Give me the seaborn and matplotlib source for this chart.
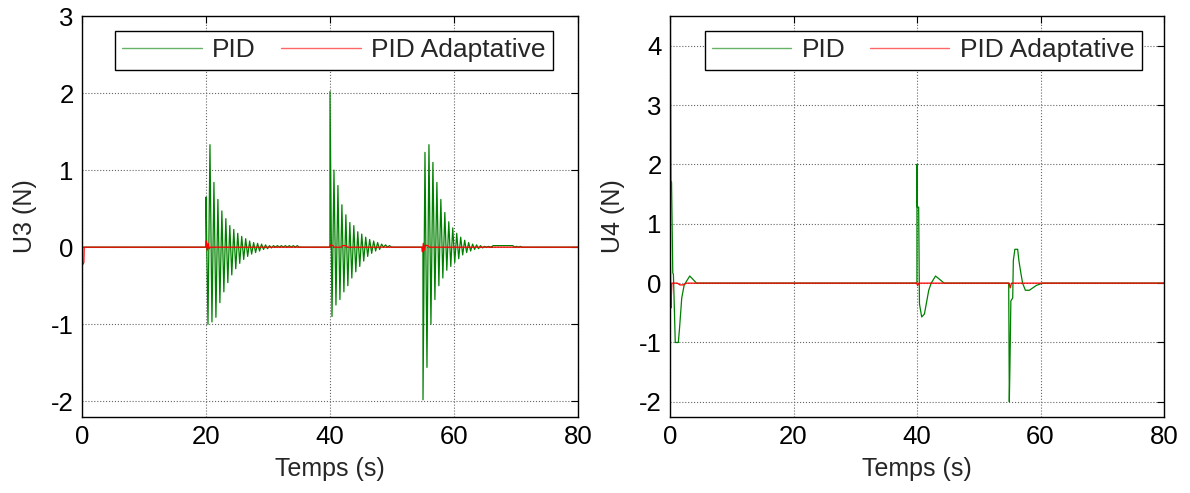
import numpy as np
import pandas as pd
import seaborn as sns
import matplotlib.pyplot as plt

# ---------------------------------------------------------------- data
HALF_PERIOD = 0.32          # spacing (s) between successive extrema of the oscillations
T_END = 80.0

# U3 (PID): successive extrema of the three disturbance responses
u3_burst_starts = [20.0, 40.0, 55.0]
u3_burst_a = [0.65, -1.0, 1.33, -0.97, 0.84, -0.91, 0.62, -0.72, 0.47, -0.58,
              0.37, -0.46, 0.28, -0.36, 0.23, -0.28, 0.18, -0.21, 0.14, -0.16,
              0.11, -0.12, 0.08, -0.09, 0.06, -0.07, 0.05, -0.05, 0.04, -0.03,
              0.03, -0.02, 0.02, -0.01, 0.02, 0.0, 0.02, 0.0, 0.02, 0.0,
              0.02, 0.0, 0.02, 0.0, 0.02, 0.0, 0.02, 0.0]
u3_burst_b = [2.02, -0.9, 1.0, -0.75, 0.8, -0.68, 0.55, -0.58, 0.42, -0.5,
              0.32, -0.4, 0.28, -0.32, 0.2, -0.25, 0.17, -0.18, 0.13, -0.12,
              0.1, -0.08, 0.08, -0.05, 0.06, -0.03, 0.04, 0.0, 0.03, 0.0, 0.02]
u3_burst_c = [-1.98, 1.23, -1.56, 1.33, -1.0, 1.1, -0.68, 0.84, -0.5, 0.62,
              -0.4, 0.45, -0.3, 0.33, -0.25, 0.25, -0.2, 0.18, -0.15, 0.13,
              -0.1, 0.09, -0.07, 0.06, -0.05, 0.04, -0.03, 0.03, -0.02, 0.02,
              -0.01, 0.01, 0.0, 0.01, 0.0]
u3_pid_tail_t = [66.0, 66.3, 69.5, 69.8, 70.1, 70.4, 70.7, 71.0]
u3_pid_tail_v = [0.0, 0.02, 0.02, 0.0, 0.01, 0.0, 0.01, 0.0]

# U3 (adaptive PID)
u3_adp_t = [0.0, 0.02, 0.3, 0.35, 19.95, 20.05, 20.2, 20.35, 20.5, 20.7,
            39.95, 40.05, 40.5, 40.6, 41.8, 42.0, 42.6, 42.8,
            54.8, 54.9, 55.05, 55.2, 55.4, 55.6, 55.8, 56.0]
u3_adp_v = [0.0, -0.24, -0.2, 0.0, 0.0, 0.08, -0.04, 0.05, -0.02, 0.0,
            0.0, 0.03, 0.02, 0.0, 0.0, 0.02, 0.02, 0.0,
            0.0, -0.06, 0.05, -0.04, 0.03, 0.02, 0.02, 0.0]

# U4 (PID)
u4_pid_t = [0.0, 0.05, 0.15, 0.25, 0.45, 0.55, 0.75, 0.85, 1.35, 1.55, 1.9,
            2.3, 3.2, 4.3,
            39.99, 40.0, 40.05, 40.27, 40.4, 40.76, 41.2, 41.5, 41.9, 42.3,
            43.0, 44.4,
            54.85, 54.95, 55.05, 55.2, 55.5, 55.6, 55.85, 56.3, 56.5, 56.85,
            57.1, 57.55, 58.2, 59.3, 60.3]
u4_pid_v = [0.0, 5.0, 1.73, 1.7, 0.17, 0.15, -0.6, -1.0, -1.0, -0.75, -0.25,
            -0.03, 0.12, 0.0,
            0.0, 2.0, 1.28, 1.28, -0.35, -0.57, -0.52, -0.35, -0.12, 0.0,
            0.12, 0.0,
            0.0, -2.0, -1.4, -0.3, -0.25, 0.38, 0.57, 0.57, 0.38, 0.15,
            0.0, -0.12, -0.12, -0.04, 0.0]

# U4 (adaptive PID)
u4_adp_t = [0.0, 0.05, 0.15, 0.3, 1.2, 1.6, 2.2, 2.6,
            39.95, 40.1, 40.3, 54.9, 55.1, 55.3]
u4_adp_v = [0.55, 0.55, -0.42, 0.0, 0.0, -0.03, -0.03, 0.0,
            0.0, -0.04, 0.0, 0.0, -0.08, 0.0]

labels = ["PID", "PID Adaptative"]
colors = {"PID": "#008000", "PID Adaptative": "#ff0000"}


def burst(start, values):
    t = start + HALF_PERIOD * np.arange(len(values))
    return list(t), list(values)


# assemble U3 PID trace: flat zero between the three responses
u3_pid_t, u3_pid_v = [0.0], [0.0]
for start, vals in zip(u3_burst_starts, [u3_burst_a, u3_burst_b, u3_burst_c]):
    bt, bv = burst(start, vals)
    u3_pid_t += [start - 0.01] + bt
    u3_pid_v += [0.0] + bv
    u3_pid_t += [bt[-1] + HALF_PERIOD]
    u3_pid_v += [0.0]
u3_pid_t += u3_pid_tail_t + [T_END]
u3_pid_v += u3_pid_tail_v + [0.0]

u3_adp_t = u3_adp_t + [T_END]
u3_adp_v = u3_adp_v + [0.0]
u4_pid_t = u4_pid_t + [T_END]
u4_pid_v = u4_pid_v + [0.0]
u4_adp_t = u4_adp_t + [T_END]
u4_adp_v = u4_adp_v + [0.0]


def frame(t_pid, v_pid, t_adp, v_adp):
    return pd.concat([
        pd.DataFrame({"t": t_pid, "u": v_pid, "ctrl": labels[0]}),
        pd.DataFrame({"t": t_adp, "u": v_adp, "ctrl": labels[1]}),
    ], ignore_index=True)


df_u3 = frame(u3_pid_t, u3_pid_v, u3_adp_t, u3_adp_v)
df_u4 = frame(u4_pid_t, u4_pid_v, u4_adp_t, u4_adp_v)

# ---------------------------------------------------------------- style
sns.set_style("white")
plt.rcParams["font.family"] = ["Liberation Sans", "DejaVu Sans"]
plt.rcParams["axes.unicode_minus"] = False
FS_TICK = 18.5
FS_LABEL = 18
FS_LEG = 19

fig = plt.figure(figsize=(11.9, 4.93), dpi=100)
W, H = 1190, 493
bottom = 1 - 416.7 / H
height = 400.7 / H
ax1 = fig.add_axes([82 / W, bottom, 496 / W, height])
ax2 = fig.add_axes([670 / W, bottom, 494 / W, height])

panels = [
    (ax1, df_u3, "U3 (N)", (-2.2, 3.0), np.arange(-2, 4), (0.0665, 0.883)),
    (ax2, df_u4, "U4 (N)", (-2.25, 4.5), np.arange(-2, 5), (0.0706, 0.884)),
]

for ax, df, ylabel, ylim, yticks, (lx, lw) in panels:
    sns.lineplot(data=df, x="t", y="u", hue="ctrl", palette=colors,
                 estimator=None, sort=False, linewidth=0.9, legend=False, ax=ax)
    ax.set_xlim(0, 80)
    ax.set_ylim(*ylim)
    ax.set_xticks(np.arange(0, 81, 20))
    ax.set_yticks(yticks)
    ax.set_xlabel("Temps (s)", fontsize=FS_LABEL, labelpad=6)
    ax.set_ylabel(ylabel, fontsize=FS_LABEL, labelpad=10)
    ax.grid(True, color="0.4", linestyle=":", linewidth=0.8)
    ax.set_axisbelow(True)
    ax.tick_params(direction="in", top=True, right=True, length=5, width=0.8,
                   labelsize=FS_TICK, colors="black", pad=6)
    for sp in ax.spines.values():
        sp.set_visible(True)
        sp.set_color("black")
        sp.set_linewidth(1.0)
    handles = ax.get_lines()[:2]
    leg = ax.legend(handles, labels, ncol=2, loc="upper left",
                    bbox_to_anchor=(lx, 0.0, lw, 0.963), mode="expand",
                    borderaxespad=0, fontsize=FS_LEG, frameon=True, fancybox=False,
                    framealpha=1, edgecolor="black", handlelength=3.0,
                    handletextpad=0.4, borderpad=0.28, columnspacing=0.8)
    leg.get_frame().set_linewidth(1.0)
    for h in leg.get_lines():
        h.set_linewidth(1.0)
        h.set_alpha(0.6)

fig.savefig("out.png", dpi=100)
